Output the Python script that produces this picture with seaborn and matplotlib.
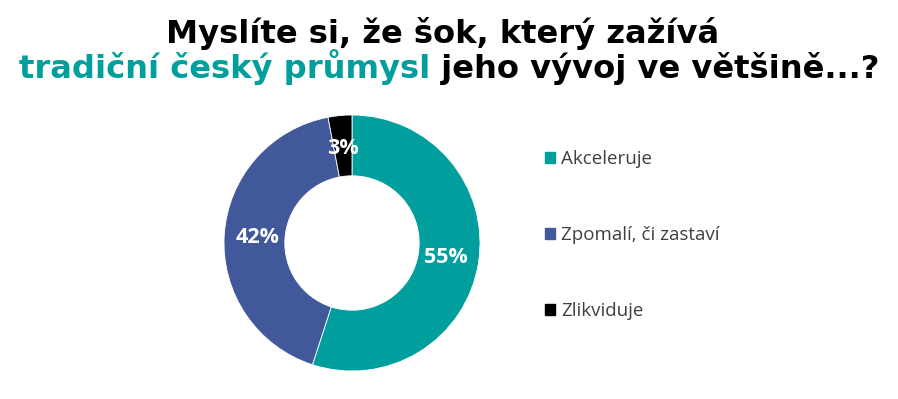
import matplotlib
matplotlib.use("Agg")
import matplotlib.pyplot as plt
import seaborn as sns
from matplotlib.patches import Patch

categories = ["Akceleruje", "Zpomalí, či zastaví", "Zlikviduje"]
values = [55, 42, 3]
colors = ["#009E9C", "#41599A", "#000000"]
title_line1 = "Myslíte si, že šok, který zažívá"
title_hl = "tradiční český průmysl"
title_rest = " jeho vývoj ve většině...?"

sns.set_theme(style="white")
plt.rcParams["font.family"] = ["Open Sans", "DejaVu Sans"]

W, H = 898, 399
fig = plt.figure(figsize=(W / 100, H / 100), dpi=100)
fig.patch.set_facecolor("white")

cx, cy, R = 352, 243, 128
ax = fig.add_axes([(cx - R) / W, (H - cy - R) / H, 2 * R / W, 2 * R / H])
wedges, texts, autotexts = ax.pie(
    values, colors=colors, startangle=90, counterclock=False, radius=1.0,
    wedgeprops=dict(width=0.475, edgecolor="white", linewidth=0.6),
    autopct=lambda p: f"{p:.0f}%", pctdistance=0.74,
    textprops=dict(color="white", fontsize=15.5, fontweight="bold",
                   family=["Open Sans", "DejaVu Sans"]))
ax.set_xlim(-1, 1)
ax.set_ylim(-1, 1)
ax.set_aspect("equal")
ax.axis("off")

handles = [Patch(facecolor=c, edgecolor=c) for c in colors]
leg = fig.legend(handles, categories, loc="upper left",
                 bbox_to_anchor=(528 / W, 1 - 133 / H), frameon=False,
                 fontsize=13.5, labelspacing=3.1, handlelength=0.55,
                 handleheight=0.55, handletextpad=0.3, labelcolor="#404040")

tfont = dict(family=["DejaVu Sans"], fontweight="bold")
fig.canvas.draw()
r = fig.canvas.get_renderer()
t1 = fig.text(0, 1 - 78 / H, title_hl, ha="left", va="baseline", color="#009E9C", fontsize=22, **tfont)
t2 = fig.text(0, 1 - 78 / H, title_rest, ha="left", va="baseline", color="black", fontsize=22, **tfont)
wt = t1.get_window_extent(r).width + t2.get_window_extent(r).width
fs = 22 * 858 / wt
t1.set_fontsize(fs)
t2.set_fontsize(fs)
w1 = t1.get_window_extent(r).width
w2 = t2.get_window_extent(r).width
x0 = 449 - (w1 + w2) / 2
t1.set_x(x0 / W)
t2.set_x((x0 + w1) / W)
fig.text(443 / W, 1 - 43 / H, title_line1, ha="center", va="baseline", color="black", fontsize=fs, **tfont)

fig.savefig("out.png", dpi=100, facecolor="white")
